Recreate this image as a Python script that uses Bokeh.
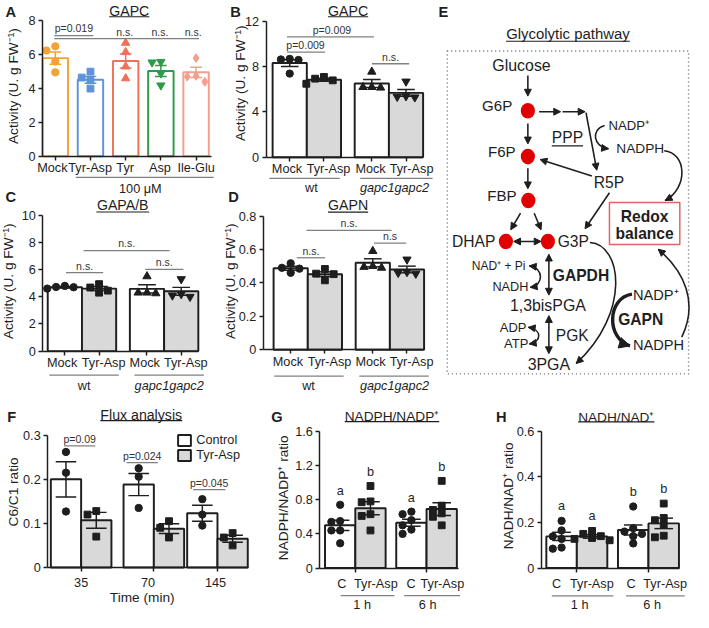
import math
from bokeh.plotting import figure
from bokeh.layouts import row, column
from bokeh.models import LinearAxis, FixedTicker, Range1d, Arrow, NormalHead, Legend, LegendItem
from bokeh.core.properties import value
from bokeh.embed import file_html
from bokeh.resources import INLINE

# ---------------- data ----------------
a_labels = ["Mock", "Tyr-Asp", "Tyr", "Asp", "Ile-Glu"]
a_mean = [5.8, 4.52, 5.63, 5.04, 4.96]
a_sem = [0.36, 0.2, 0.42, 0.33, 0.3]
a_mock = [6.5, 6.25, 5.6, 4.96]
a_tyrasp = [5.0, 4.65, 4.5, 4.0]
a_tyr = [6.7, 6.15, 5.3, 4.6]
a_asp = [5.58, 5.55, 4.9, 4.19]
a_ileglu = [5.8, 4.75, 4.7, 4.4]
a_yticks = [0, 2, 4, 6, 8]

bcd_labels = ["Mock", "Tyr-Asp", "Mock", "Tyr-Asp"]
bcd_groups = ["wt", "gapc1gapc2"]
b_mean = [8.33, 6.85, 6.53, 5.69]
b_sem = [0.3, 0.13, 0.35, 0.3]
b_pts = [[8.7, 8.65, 8.6, 7.4], [7.1, 6.95, 6.8, 6.5], [7.56, 6.2, 6.2, 6.15], [6.7, 5.4, 5.35, 5.3]]
b_yticks = [0, 4, 8, 12]

c_mean = [4.7, 4.6, 4.58, 4.4]
c_sem = [0.05, 0.15, 0.3, 0.29]
c_pts = [[4.8, 4.72, 4.7, 4.6], [4.93, 4.68, 4.45, 4.3], [5.5, 4.3, 4.3, 4.25], [5.3, 4.2, 4.1, 4.0]]
c_yticks = [0, 2, 4, 6, 8, 10]

d_mean = [0.487, 0.452, 0.52, 0.48]
d_sem = [0.012, 0.014, 0.024, 0.02]
d_pts = [[0.517, 0.49, 0.485, 0.46], [0.483, 0.455, 0.452, 0.415], [0.59, 0.5, 0.495, 0.49], [0.54, 0.465, 0.46, 0.455]]
d_yticks = [0, 0.2, 0.4, 0.6, 0.8]
d_ytick_labels = ["0", "0.2", "0.4", "0.6", "0.8"]

f_times = ["35", "70", "145"]
f_ctrl_mean = [0.2, 0.188, 0.123]
f_ctrl_sem = [0.04, 0.025, 0.018]
f_ctrl_pts = [[0.262, 0.215, 0.127], [0.225, 0.206, 0.135], [0.155, 0.12, 0.095]]
f_ta_mean = [0.107, 0.088, 0.065]
f_ta_sem = [0.018, 0.011, 0.008]
f_ta_pts = [[0.128, 0.12, 0.07], [0.105, 0.09, 0.068], [0.078, 0.068, 0.05]]
f_yticks = [0, 0.1, 0.2, 0.3]
f_ytick_labels = ["0", "0.1", "0.2", "0.3"]

gh_labels = ["C", "Tyr-Asp", "C", "Tyr-Asp"]
gh_groups = ["1 h", "6 h"]
g_mean = [0.5, 0.7, 0.53, 0.69]
g_sem = [0.06, 0.075, 0.04, 0.075]
g_pts = [[0.74, 0.55, 0.54, 0.44, 0.44, 0.29], [0.96, 0.78, 0.77, 0.63, 0.61, 0.44],
         [0.66, 0.63, 0.56, 0.5, 0.45, 0.4], [1.02, 0.73, 0.68, 0.64, 0.6, 0.5]]
g_letters = ["a", "b", "a", "b"]
g_yticks = [0, 0.4, 0.8, 1.2, 1.6]
g_ytick_labels = ["0", "0.4", "0.8", "1.2", "1.6"]

h_mean = [0.139, 0.139, 0.167, 0.196]
h_sem = [0.018, 0.008, 0.022, 0.023]
h_pts = [[0.207, 0.165, 0.139, 0.128, 0.09, 0.085], [0.163, 0.15, 0.14, 0.132, 0.128, 0.122],
         [0.27, 0.175, 0.16, 0.15, 0.14, 0.108], [0.283, 0.22, 0.21, 0.19, 0.142, 0.135]]
h_letters = ["a", "a", "b", "b"]
h_yticks = [0, 0.2, 0.4, 0.6]
h_ytick_labels = ["0", "0.2", "0.4", "0.6"]

# ---------------- style ----------------
SF = 0.976
FONT = "Liberation Sans"
INK = "#1e1e1e"
GRAY = "#808080"
GRAYF = "#d9d9d9"
A_COLORS = ["#F4A234", "#5E93DA", "#F0705A", "#2C9C48", "#F59E8C"]
TICK_FS = 13
AXLAB_FS = 14
TITLE_FS = 14.5
SIG_FS = 10.8
ACT_LABEL = "Activity (U. g FW\u207b\u00b9)"


def fpx(n):
    return f"{n * SF:.2f}px"


CW = {' ': .278, '(': .333, ')': .333, '+': .584, ',': .278, '-': .333, '.': .278, '/': .278,
      '=': .584, '\u207a': .35, '\u207b': .35, '\u00b9': .333, '\u03bc': .576}
for ch in "0123456789":
    CW[ch] = .556
CW.update(dict(zip("ABCDEFGHIJKLMNOPQRSTUVWXYZ",
                   [.667, .667, .722, .722, .667, .611, .778, .722, .278, .5, .667, .556, .833, .722,
                    .778, .667, .778, .722, .667, .611, .722, .667, .944, .667, .667, .611])))
CW.update(dict(zip("abcdefghijklmnopqrstuvwxyz",
                   [.556, .556, .5, .556, .556, .278, .556, .556, .222, .222, .5, .222, .833, .556,
                    .556, .556, .556, .333, .5, .278, .556, .5, .722, .5, .5, .5])))


def text_width(s, size):
    return sum(CW.get(c, .556) for c in s) * size


class Panel:
    def __init__(self, ox, oy, w, h, W, H, xa, ya):
        (px1, v1), (px2, v2) = xa
        self.kx = (v2 - v1) / (px2 - px1)
        self.x_at0 = v1 - (px1 - ox) * self.kx
        (py1, u1), (py2, u2) = ya
        self.ky = (u2 - u1) / (py2 - py1)
        self.y_at0 = u1 - (py1 - oy) * self.ky
        self.ox, self.oy = ox, oy
        xr = Range1d(self.x_at0, self.x_at0 + w * self.kx)
        yr = Range1d(self.y_at0 + h * self.ky, self.y_at0)
        self.p = figure(width=W, height=H, x_range=xr, y_range=yr, x_axis_type=None, y_axis_type=None,
                        toolbar_location=None, output_backend="svg", min_border=0,
                        outline_line_color=None, title=None,
                        background_fill_color="white", border_fill_color="white")
        self.ppu = abs(1.0 / self.ky)

    def X(self, ax):
        return self.x_at0 + (ax - self.ox) * self.kx

    def Y(self, ay):
        return self.y_at0 + (ay - self.oy) * self.ky

    def text(self, ax, ay, s, size, style="normal", align="center", color=INK, angle=0.0):
        self.p.text(x=[self.X(ax)], y=[self.Y(ay)], text=[s], text_font=value(FONT),
                    text_font_size=fpx(size), text_font_style=style, text_align=align,
                    text_baseline="middle", text_color=color, angle=angle)

    def line(self, ax0, ay0, ax1, ay1, color=GRAY, width=1.3):
        self.p.segment(x0=[self.X(ax0)], y0=[self.Y(ay0)], x1=[self.X(ax1)], y1=[self.Y(ay1)],
                       line_color=color, line_width=width * SF)

    def title(self, cx, cy, ul, s, size=TITLE_FS):
        self.text(cx, cy, s, size)
        w = text_width(s, size)
        self.line(cx - w / 2, ul, cx + w / 2, ul, color=INK, width=1.1)

    def letter(self, x, cy, s):
        self.text(x, cy, s, 15, style="bold", align="left")

    def sig(self, x0, x1, y, label, lx=None):
        self.line(x0, y, x1, y)
        self.text((x0 + x1) / 2 if lx is None else lx, y - 7.3, label, SIG_FS, color="#333333")

    def ylabel(self, cx, cy, s):
        self.text(cx, cy, s, AXLAB_FS, angle=math.pi / 2)

    def xlabels(self, xs_px, y_px, labels, size=TICK_FS):
        for x, l in zip(xs_px, labels):
            self.text(x, y_px, l, size)


def swarm(vals, ppu, dx=9.0, dy=7.0):
    placed, out = [], []
    for v in vals:
        y = v * ppu
        cands = [0.0]
        for k in range(1, 6):
            cands += [-k * dx, k * dx]
        chosen = cands[-1]
        for c in cands:
            if all(abs(c - px) >= dx * 0.99 or abs(y - py) >= dy for px, py in placed):
                chosen = c
                break
        placed.append((chosen, y))
        out.append(chosen)
    return out


def bars(P, xs, means, sems, pts, width, fills, lines, markers, mcols, msizes, cap_px):
    fc = fills if len(set(fills)) > 1 else fills[0]
    lc = lines if len(set(lines)) > 1 else lines[0]
    r = P.p.vbar(x=xs, top=means, width=width, bottom=0, fill_color=fc, line_color=lc,
                 line_width=2.0 * SF)
    lo = [m - s for m, s in zip(means, sems)]
    hi = [m + s for m, s in zip(means, sems)]
    cw = cap_px * P.kx / 2
    P.p.segment(x0=xs, y0=lo, x1=xs, y1=hi, line_color=lc, line_width=1.5 * SF)
    P.p.segment(x0=[x - cw for x in xs], y0=hi, x1=[x + cw for x in xs], y1=hi, line_color=lc,
                line_width=1.5 * SF)
    P.p.segment(x0=[x - cw for x in xs], y0=lo, x1=[x + cw for x in xs], y1=lo, line_color=lc,
                line_width=1.5 * SF)
    for x, vals, m, c, s in zip(xs, pts, markers, mcols, msizes):
        offs = swarm(vals, P.ppu)
        P.p.scatter(x=[x + o * P.kx for o in offs], y=vals, marker=m, size=s * SF,
                    fill_color=c, line_color=c)
    return r


def style_axis(ax, fs=TICK_FS):
    ax.axis_line_color = INK
    ax.axis_line_width = 1.5 * SF
    ax.major_tick_line_color = INK
    ax.major_tick_line_width = 1.5 * SF
    ax.major_tick_in = 0
    ax.minor_tick_in = 0
    ax.minor_tick_out = 0
    ax.major_label_text_font = FONT
    ax.major_label_text_font_size = fpx(fs)
    ax.major_label_text_color = INK


def yaxis(P, ax_px, ticks, labels, tick_out=4, standoff=3):
    ax = LinearAxis(fixed_location=P.X(ax_px), ticker=FixedTicker(ticks=list(ticks)),
                    major_label_overrides={t: l for t, l in zip(ticks, labels)},
                    bounds=(ticks[0], ticks[-1]))
    style_axis(ax)
    ax.major_tick_out = tick_out
    ax.major_label_standoff = standoff
    P.p.add_layout(ax, "left")


def xaxis(P, x0, x1, ticks, tick_out=4):
    ax = LinearAxis(fixed_location=0, ticker=FixedTicker(ticks=list(ticks)),
                    major_label_overrides={t: "" for t in ticks},
                    bounds=(P.X(x0), P.X(x1)))
    style_axis(ax)
    ax.major_tick_out = tick_out
    P.p.add_layout(ax, "below")


GX = [0, 1, 2.4, 3.4]
HX = [0, 1, 2.35, 3.35]
BCD_MARK = ["circle", "square", "triangle", "inverted_triangle"]
BCD_MS = [7.5, 7, 8.5, 8.5]
BCD_FILL = ["white", GRAYF, "white", GRAYF]

# ---------------- A ----------------
A = Panel(0, 0, 226, 185, 221, 180, ((56, 0), (92, 1)), ((21, 8), (160, 0)))
a_x = list(range(len(a_labels)))
bars(A, a_x, a_mean, a_sem, [a_mock, a_tyrasp, a_tyr, a_asp, a_ileglu], 26 / 36, ["white"] * 5,
     A_COLORS, ["circle", "square", "triangle", "inverted_triangle", "diamond"], A_COLORS,
     [7.5, 7, 8.5, 8.5, 9], 12)
yaxis(A, 43, a_yticks, [str(t) for t in a_yticks])
xaxis(A, 43, 216, a_x)
A.xlabels([53, 91.7, 127.5, 163, 200], 172.5, a_labels)
A.ylabel(13.3, 88, ACT_LABEL)
A.title(131.7, 11.2, 16.7, "GAPC")
A.letter(5, 11.7, "A")
A.line(55, 36, 95, 36)
A.text(75, 28.5, "p=0.019", SIG_FS, color="#333333")
A.line(55, 39.3, 203, 39.3)
for xx in (127, 163, 197):
    A.text(xx, 32, "n.s.", SIG_FS, color="#333333")
A.line(77, 181.7, 218, 181.7)

# ---------------- B ----------------
B = Panel(226, 0, 220, 186, 215, 181, ((295.8, 0), (330.8, 1)), ((21.7, 12), (161, 0)))
bars(B, GX, b_mean, b_sem, b_pts, 1, BCD_FILL, [INK] * 4, BCD_MARK, [INK] * 4, BCD_MS, 18)
yaxis(B, 271.7, b_yticks, [str(t) for t in b_yticks])
xaxis(B, 271.7, 431.5, GX)
B.xlabels([293, 335.5, 378.5, 420.5], 173, bcd_labels)
B.ylabel(245.3, 85, ACT_LABEL)
B.title(355.5, 11.2, 16.7, "GAPC")
B.letter(235, 11.7, "B")
B.sig(293, 382, 37.3, "p=0.009", 339)
B.sig(293, 332, 53, "p=0.009", 312)
B.sig(380, 418, 65, "n.s.")
B.line(275, 182.7, 347, 182.7)
B.line(368, 182.7, 442, 182.7)

# ---------------- C ----------------
C = Panel(0, 185, 226, 225, 221, 220, ((65.8, 0), (100.8, 1)), ((220.5, 10), (359.5, 0)))
C.text(143, 194, "100 \u03bcM", TICK_FS)   # caption of panel A's treatment group
bars(C, GX, c_mean, c_sem, c_pts, 1, BCD_FILL, [INK] * 4, BCD_MARK, [INK] * 4, BCD_MS, 18)
yaxis(C, 43.3, c_yticks, [str(t) for t in c_yticks])
xaxis(C, 43.3, 202.5, GX)
C.xlabels([63, 105.5, 147.5, 189.5], 372, bcd_labels)
C.ylabel(7.7, 288, ACT_LABEL)
C.title(125, 210, 217.3, "GAPA/B")
C.letter(5, 201.5, "C")
C.sig(85, 173, 256.7, "n.s.")
C.sig(67, 105, 279.3, "n.s.")
C.sig(148, 187, 276, "n.s.")
C.line(50, 384, 121, 384)
C.line(137, 384, 208, 384)
C.text(85.5, 395, bcd_groups[0], TICK_FS)
C.text(172.5, 395, bcd_groups[1], TICK_FS, style="italic")

# ---------------- D ----------------
D = Panel(226, 186, 220, 224, 215, 219, ((296.8, 0), (331.8, 1)), ((221.3, 0.8), (358, 0)))
D.text(318, 193, bcd_groups[0], TICK_FS)                  # group labels of panel B
D.text(403, 193, bcd_groups[1], TICK_FS, style="italic")
bars(D, GX, d_mean, d_sem, d_pts, 1, BCD_FILL, [INK] * 4, BCD_MARK, [INK] * 4, BCD_MS, 18)
yaxis(D, 268.8, d_yticks, d_ytick_labels)
xaxis(D, 268.8, 432, GX)
D.xlabels([294, 336.5, 378.5, 420.5], 370.5, bcd_labels)
D.ylabel(235, 288, ACT_LABEL)
D.title(355.5, 210, 217.3, "GAPN")
D.letter(233, 201.5, "D")
D.sig(313, 400, 236, "n.s.")
D.sig(303, 332, 264, "n.s.")
D.sig(382, 415, 249, "n.s")
D.line(280, 385, 351, 385)
D.line(367, 385, 438, 385)
D.text(315, 395.5, bcd_groups[0], TICK_FS)
D.text(403, 395.5, bcd_groups[1], TICK_FS, style="italic")

# ---------------- E (diagram) ----------------
E = Panel(446, 0, 263, 410, 257, 400, ((446, 446), (709, 709)), ((0, 0), (410, 410)))
e = E.p
E.letter(448, 11.7, "E")
E.title(580.5, 33.8, 41.7, "Glycolytic pathway", 15.3)
e.quad(left=[457], right=[704], top=[51.7], bottom=[382.7], fill_color=None, line_color="#666666",
       line_width=1.5 * SF, line_dash="1 3")
e.quad(left=[623], right=[695], top=[207], bottom=[250], fill_color=None, line_color="#E06262",
       line_width=1.5 * SF)
e.ellipse(x=[539.5, 539.5, 540, 517, 560], y=[113, 160, 205, 247, 247], width=14.5, height=16,
          fill_color="#E00000", line_color=None)


def head(P, frm, to, hs=7):
    dx, dy = to[0] - frm[0], to[1] - frm[1]
    L = math.hypot(dx, dy)
    P.p.add_layout(Arrow(end=NormalHead(size=hs * SF, fill_color=INK, line_color=INK, line_width=1),
                         start=None, x_start=to[0] - dx / L * 1.5, y_start=to[1] - dy / L * 1.5,
                         x_end=to[0], y_end=to[1], line_alpha=0))


def arrow(P, x0, y0, x1, y1, both=False, hs=7, lw=1.6):
    def nh():
        return NormalHead(size=hs * SF, fill_color=INK, line_color=INK, line_width=1)
    P.p.add_layout(Arrow(end=nh(), start=nh() if both else None, x_start=x0, y_start=y0, x_end=x1,
                         y_end=y1, line_color=INK, line_width=lw * SF))


def curve(P, p0, c1, c2, p3, lw=1.6, end=True, start=False, hs=7):
    P.p.bezier(x0=[p0[0]], y0=[p0[1]], x1=[p3[0]], y1=[p3[1]], cx0=[c1[0]], cy0=[c1[1]],
               cx1=[c2[0]], cy1=[c2[1]], line_color=INK, line_width=lw * SF)
    if end:
        head(P, c2, p3, hs)
    if start:
        head(P, c1, p0, hs)


arrow(E, 539.5, 77, 539.5, 98)
arrow(E, 539.5, 126, 539.5, 147)
arrow(E, 539.5, 172, 539.5, 193)
arrow(E, 551, 114, 573, 114)
arrow(E, 575, 114, 598, 114)
arrow(E, 599, 115, 610, 174)
arrow(E, 605, 180, 552, 163)
arrow(E, 623, 197, 598, 234)
arrow(E, 532, 218, 522, 235)
arrow(E, 546, 218, 553, 235)
arrow(E, 525, 247, 553, 247, both=True)
arrow(E, 561, 260, 561, 302, both=True)
arrow(E, 561, 323, 561, 362, both=True)

curve(E, (618, 128), (604, 132), (606, 150), (622, 152))
curve(E, (679, 154), (702, 156), (704, 192), (680, 205))
curve(E, (541, 272), (556, 274), (556, 292), (542, 294), start=True)
curve(E, (540, 335), (554, 337), (554, 350), (541, 352), start=True)
curve(E, (603, 248), (636, 250), (645, 320), (589, 372))
curve(E, (646, 301), (620, 305), (620, 347), (644, 354), lw=3.5, hs=11)
curve(E, (697, 345), (714, 310), (700, 278), (673, 255))

E.text(533, 67, "Glucose", 16.3)
E.text(523.5, 108, "G6P", 15.5, align="right")
E.text(527, 155, "F6P", 15.5, align="right")
E.text(528, 200, "FBP", 15.5, align="right")
E.title(580, 140.3, 149, "PPP", 16)
E.text(622, 128, "NADP\u207a", 13.5, align="left")
E.text(630, 152, "NADPH", 14, align="left")
E.text(622.5, 187, "R5P", 16)
E.text(484, 247, "DHAP", 16)
E.text(570, 247, "G3P", 16, align="left")
E.text(659, 221.5, "Redox", 16, style="bold")
E.text(659, 239, "balance", 16, style="bold")
E.text(537, 272, "NAD\u207a + Pi", 12.3, align="right")
E.text(540, 294, "NADH", 13, align="right")
E.text(565, 282, "GAPDH", 16, style="bold", align="left")
E.text(560, 313, "1,3bisPGA", 16.3)
E.text(538, 335, "ADP", 13.3, align="right")
E.text(540, 352, "ATP", 13.3, align="right")
E.text(568, 343, "PGK", 16, align="left")
E.text(561, 373, "3PGA", 16.3)
E.text(647, 302, "NADP\u207a", 15, align="left")
E.text(655, 327, "GAPN", 16, style="bold")
E.text(647, 353, "NADPH", 15, align="left")

# ---------------- F ----------------
F = Panel(0, 410, 265, 218, 259, 212, ((82.5, 0), (113.5, 1)), ((445.7, 0.3), (581.7, 0)))
FG = [0, 2.4, 4.5]
rc = bars(F, [g - 0.5 for g in FG], f_ctrl_mean, f_ctrl_sem, f_ctrl_pts, 1, ["white"] * 3, [INK] * 3,
          ["circle"] * 3, [INK] * 3, [7.5] * 3, 21)
rt = bars(F, [g + 0.5 for g in FG], f_ta_mean, f_ta_sem, f_ta_pts, 1, [GRAYF] * 3, [INK] * 3,
          ["square"] * 3, [INK] * 3, [7] * 3, 21)
yaxis(F, 48.3, f_yticks, f_ytick_labels)
xaxis(F, 48.3, 254, FG)
F.xlabels([82.5, 151, 220], 596.7, f_times)
F.text(145, 613, "Time (min)", AXLAB_FS)
F.ylabel(13, 504, "C6/C1 ratio")
F.title(144, 424.5, 430.7, "Flux analysis")
F.letter(7, 426.7, "F")
F.sig(65, 97, 456.7, "p=0.09")
F.sig(129, 161, 474, "p=0.024")
F.sig(197, 230, 501.7, "p=0.045")
leg = Legend(items=[LegendItem(label="Control", renderers=[rc]), LegendItem(label="Tyr-Asp", renderers=[rt])],
             location=(180.4 * 259 / 265, (628 - 474.2) * 212 / 218), orientation="vertical",
             padding=0, margin=0, spacing=0, glyph_width=round(16 * SF), glyph_height=round(14.5 * SF),
             label_height=round(15 * SF), label_standoff=round(3.6 * SF), label_text_font=FONT,
             label_text_font_size=fpx(TICK_FS), label_text_color=INK, border_line_color=None,
             background_fill_alpha=0)
F.p.add_layout(leg)

# ---------------- G ----------------
G = Panel(265, 410, 225, 218, 220, 212, ((347.5, 0), (378.5, 1)), ((441.7, 1.6), (582.3, 0)))
bars(G, HX, g_mean, g_sem, g_pts, 1, BCD_FILL, [INK] * 4, ["circle", "square"] * 2, [INK] * 4,
     [7.5, 7, 7.5, 7], 19)
yaxis(G, 326.7, g_yticks, g_ytick_labels)
xaxis(G, 326.7, 468.5, [0.5, 2.85])
G.xlabels([349.3, 384, 420, 452], 599, gh_labels)
G.ylabel(290, 510, "NADPH/NADP\u207a ratio")
G.title(400.5, 426.7, 431.7, "NADPH/NADP\u207a", 14)
G.letter(277, 426.7, "G")
for x, pts, l in zip(HX, g_pts, g_letters):
    G.p.text(x=[x], y=[max(pts) + 14 / G.ppu], text=[l], text_font=value(FONT),
             text_font_size=fpx(TICK_FS), text_align="center", text_baseline="middle", text_color=INK)
G.line(348, 610.7, 403, 610.7)
G.line(413, 610.7, 470, 610.7)
G.text(370, 620, gh_groups[0], TICK_FS)
G.text(437, 620, gh_groups[1], TICK_FS)

# ---------------- H ----------------
H = Panel(490, 410, 219, 218, 214, 212, ((574, 0), (605.2, 1)), ((441.7, 0.6), (582.3, 0)))
bars(H, HX, h_mean, h_sem, h_pts, 1, BCD_FILL, [INK] * 4, ["circle", "square"] * 2, [INK] * 4,
     [7.5, 7, 7.5, 7], 19)
yaxis(H, 553.3, h_yticks, h_ytick_labels)
xaxis(H, 553.3, 695, [0.5, 2.85])
H.xlabels([569, 605, 645, 680], 599, gh_labels)
H.ylabel(520, 508, "NADH/NAD\u207a ratio")
H.title(630, 427, 432, "NADH/NAD\u207a", 14)
H.letter(507, 426.7, "H")
for x, pts, l in zip(HX, h_pts, h_letters):
    H.p.text(x=[x], y=[max(pts) + 15 / H.ppu], text=[l], text_font=value(FONT),
             text_font_size=fpx(TICK_FS), text_align="center", text_baseline="middle", text_color=INK)
H.line(564, 611, 627, 611)
H.line(640, 611, 700, 611)
H.text(592.5, 620, gh_groups[0], TICK_FS)
H.text(666.7, 620, gh_groups[1], TICK_FS)

top = row(column(A.p, C.p), column(B.p, D.p), E.p)
bottom = row(F.p, G.p, H.p)
page = column(top, bottom)
open("out.html", "w").write(file_html(page, INLINE, title="Figure"))
